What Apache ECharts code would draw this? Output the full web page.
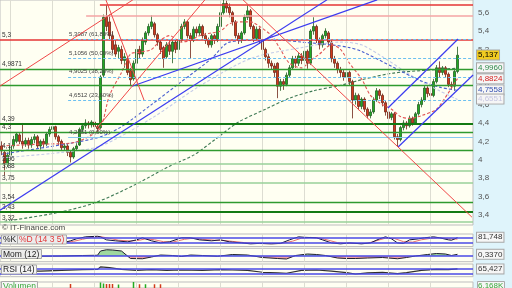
<!DOCTYPE html>
<html><head><meta charset="utf-8">
<script src="https://cdn.jsdelivr.net/npm/echarts@6/dist/echarts.min.js"></script>
<style>html,body{margin:0;padding:0;background:#e2f5fb}#c{width:512px;height:288px}</style>
</head><body><div id="c"></div>
<script>
// candles: [open, close, low, high]
const candles = [
[4.15,4.10,4.05,4.20],[4.08,3.95,3.83,4.10],[3.95,4.05,3.92,4.08],[4.05,4.15,4.02,4.18],[4.15,4.22,4.12,4.26],
[4.20,4.28,4.18,4.30],[4.27,4.20,4.17,4.29],[4.20,4.17,4.12,4.40],[4.17,4.21,4.14,4.24],[4.21,4.16,4.12,4.24],
[4.16,4.22,4.13,4.25],[4.22,4.25,4.18,4.28],[4.25,4.15,4.12,4.27],[4.15,4.20,4.11,4.22],[4.20,4.17,4.13,4.23],
[4.17,4.28,4.15,4.30],[4.28,4.33,4.25,4.36],[4.33,4.36,4.30,4.39],[4.36,4.25,4.22,4.37],[4.25,4.20,4.16,4.27],
[4.20,4.13,4.10,4.22],[4.13,4.15,4.10,4.18],[4.15,4.08,4.04,4.17],[4.08,4.03,3.97,4.10],[4.03,4.12,4.01,4.14],
[4.12,4.15,4.10,4.18],[4.16,4.33,4.15,4.35],[4.33,4.37,4.30,4.40],[4.37,4.40,4.34,4.44],[4.40,4.38,4.34,4.42],
[4.38,4.41,4.35,4.43],[4.41,4.36,4.33,4.42],[4.36,4.34,4.30,4.38],[4.35,4.90,4.33,4.92],[4.92,5.55,4.90,5.58],
[5.55,5.45,5.40,5.68],[5.50,5.35,5.30,5.58],[5.35,5.20,5.16,5.40],[5.25,5.15,5.12,5.30],[5.18,5.22,5.10,5.25],
[5.20,5.08,5.04,5.24],[5.08,5.12,5.00,5.16],[5.10,4.95,4.92,5.12],[4.97,4.87,4.80,5.00],[4.88,5.05,4.86,5.08],
[5.05,5.20,5.02,5.22],[5.20,5.15,5.10,5.24],[5.15,5.30,5.12,5.33],[5.28,5.38,5.25,5.40],[5.38,5.45,5.35,5.48],
[5.45,5.50,5.42,5.57],[5.48,5.36,5.33,5.50],[5.36,5.28,5.24,5.38],[5.28,5.20,5.15,5.30],[5.22,5.10,5.00,5.24],
[5.12,5.25,5.10,5.28],[5.25,5.18,5.14,5.30],[5.18,5.28,5.05,5.30],[5.28,5.20,5.16,5.31],[5.20,5.30,5.18,5.33],
[5.30,5.45,5.28,5.48],[5.45,5.50,5.42,5.53],[5.50,5.35,5.32,5.52],[5.35,5.30,5.10,5.38],[5.30,5.42,5.28,5.45],
[5.42,5.38,5.34,5.45],[5.38,5.45,5.35,5.48],[5.45,5.35,5.32,5.47],[5.35,5.30,5.26,5.38],[5.30,5.25,5.22,5.33],
[5.25,5.35,5.22,5.37],[5.35,5.30,5.26,5.37],[5.30,5.45,5.28,5.48],[5.45,5.60,5.43,5.62],[5.60,5.70,5.58,5.74],
[5.70,5.65,5.60,5.73],[5.66,5.60,5.55,5.70],[5.60,5.50,5.46,5.62],[5.50,5.35,5.32,5.52],[5.35,5.30,5.26,5.38],
[5.30,5.38,5.27,5.40],[5.38,5.55,5.36,5.58],[5.55,5.62,5.52,5.68],[5.62,5.45,5.42,5.64],[5.45,5.32,5.28,5.47],
[5.32,5.42,5.30,5.45],[5.42,5.30,5.26,5.44],[5.30,5.20,5.14,5.32],[5.20,5.12,5.08,5.22],[5.12,5.05,5.00,5.15],
[5.05,5.02,4.98,5.08],[5.02,4.95,4.90,5.05],[5.05,4.80,4.67,5.06],[4.80,4.85,4.75,4.88],[4.85,4.82,4.76,4.88],
[4.82,4.92,4.80,4.95],[4.92,5.00,4.90,5.03],[5.00,5.10,4.98,5.13],[5.10,5.05,5.00,5.13],[5.05,5.13,5.02,5.16],
[5.13,5.08,5.04,5.16],[5.08,5.18,5.05,5.20],[5.18,5.05,4.99,5.20],[5.05,5.40,5.03,5.42],[5.40,5.45,5.36,5.55],
[5.45,5.30,5.27,5.47],[5.30,5.25,5.20,5.33],[5.25,5.35,5.22,5.37],[5.35,5.40,5.32,5.43],[5.38,5.28,5.24,5.40],
[5.28,5.10,5.06,5.30],[5.10,5.05,5.00,5.13],[5.05,4.98,4.94,5.07],[4.98,4.95,4.90,5.01],[4.95,4.90,4.86,4.98],
[4.90,4.95,4.87,4.97],[4.95,4.85,4.81,4.97],[4.85,4.65,4.45,4.87],[4.65,4.70,4.60,4.73],[4.70,4.58,4.54,4.72],
[4.58,4.66,4.55,4.68],[4.66,4.55,4.52,4.68],[4.55,4.48,4.45,4.57],[4.48,4.52,4.45,4.55],[4.52,4.65,4.50,4.68],
[4.65,4.75,4.63,4.78],[4.75,4.70,4.66,4.77],[4.70,4.62,4.58,4.72],[4.62,4.52,4.48,4.64],[4.52,4.45,4.42,4.55],
[4.46,4.50,4.43,4.52],[4.50,4.25,4.22,4.52],[4.25,4.22,4.14,4.28],[4.22,4.35,4.20,4.37],[4.35,4.40,4.32,4.43],
[4.40,4.37,4.33,4.42],[4.37,4.45,4.35,4.48],[4.45,4.40,4.37,4.47],[4.40,4.50,4.38,4.52],[4.50,4.60,4.48,4.63],
[4.60,4.65,4.57,4.68],[4.65,4.78,4.63,4.81],[4.78,4.72,4.68,4.80],[4.72,4.70,4.66,4.75],[4.70,4.85,4.68,4.88],
[4.85,5.00,4.83,5.03],[5.00,4.95,4.90,5.07],[4.95,5.00,4.92,5.02],[5.00,4.93,4.89,5.02],[4.93,4.82,4.79,4.95],
[4.82,4.80,4.76,4.85],[4.80,4.96,4.75,4.98],[4.96,5.137,4.94,5.23]
];
// moving averages as [bar index, price]
const maRed = [[0,4.15],[13,4.17],[23,4.18],[29,4.25],[33,4.35],[36,4.7],[40,4.95],[43,5.15],[46,5.17],[50,5.2],[53,5.3],[56,5.35],[60,5.28],[63,5.3],[66,5.35],[70,5.38],[73,5.4],[76,5.48],[80,5.5],[83,5.5],[86,5.45],[90,5.35],[93,5.2],[96,5.05],[100,5.0],[103,5.08],[106,5.15],[110,5.25],[113,5.2],[116,5.05],[120,4.88],[123,4.7],[126,4.62],[130,4.55],[133,4.47],[136,4.45],[140,4.48],[145,4.55],[148,4.68],[150,4.78],[152,4.8824]];
const maBlue = [[0,4.06],[23,4.18],[33,4.25],[40,4.36],[50,4.6],[60,4.85],[70,5.1],[76,5.28],[86,5.3],[93,5.3],[100,5.28],[110,5.25],[116,5.22],[120,5.18],[131,5.0],[139,4.87],[146,4.79],[152,4.7558]];
const maLight = [[0,4.02],[20,4.08],[33,4.15],[50,4.45],[66,4.8],[83,5.1],[100,5.22],[113,5.28],[120,5.25],[127,5.12],[135,4.95],[140,4.85],[146,4.75],[152,4.6551]];
const maGreen = [[1,3.33],[18,3.42],[31,3.53],[44,3.72],[56,3.93],[64,4.05],[72,4.24],[79,4.41],[88,4.55],[96,4.67],[104,4.75],[113,4.81],[120,4.87],[130,4.94],[140,4.97],[152,4.996]];
// horizontal support / resistance levels
const hLevels = [5.31, 4.9871, 4.81, 4.39, 4.3, 4.1, 3.96, 3.88, 3.75, 3.54, 3.43, 3.32];
const hLabels = ['5,3','4,9871','','4,39','4,3','4,1','3,96','3,88','3,75','3,54','3,43','3,32'];
const topRed = {value:5.69, from:32.8};
const topPink = {value:5.565, from:28.2};
// fibonacci retracement
const fibStart = 22.2;
const fibValues = [5.3087, 5.1056, 4.9025, 4.6512];
const fibLabels = ['5,3087 (61,80%)','5,1056 (50,00%)','4,9025 (38,20%)','4,6512 (23,60%)'];
const fibBase = 4.2451, fibBaseLabel = '4,2451 (0,00%)';
// trend lines: [[x0,p0],[x1,p1]]
const blueLines = [[[-0.5,3.45],[108.5,5.74]],[[43.5,4.80],[125.2,5.74]],[[128.8,4.563],[152.2,5.314]],[[132.2,4.139],[157.2,4.922]]];
const redLines = [[[-0.5,4.802],[43.8,5.74]],[[31.8,4.345],[67.8,5.74]],[[34.8,5.74],[47.5,4.65]],[[80.5,5.74],[156.8,3.376]]];
// right value boxes
const lastValues = [5.137, 4.996, 4.8824, 4.7558, 4.6551];
const lastLabels = ['5,137','4,9960','4,8824','4,7558','4,6551'];
const priceTicks = [3.4,3.6,3.8,4,4.2,4.4,4.6,4.8,5,5.2,5.4,5.6];
const gridX = [2.8,16.8,30.8,44.8,58.8,72.8,86.8,100.8,114.8,128.8,142.8];
// indicators
const stochK = [[20,19],[23,44],[25,65],[28,86],[32,92],[33,86],[35,54],[38,44],[42,33],[45,54],[47,76],[50,44],[53,22],[56,33],[60,76],[63,76],[66,54],[70,44],[73,54],[76,33],[80,22],[83,12],[86,17],[90,12],[93,17],[96,54],[99,86],[101,81],[105,76],[107,54],[110,22],[113,12],[116,22],[120,12],[123,22],[126,65],[128,86],[130,65],[132,22],[134,17],[136,54],[139,65],[141,76],[144,86],[146,76],[149,54],[150,50],[152,78]];
const stochD = [[20,25],[24,38],[27,60],[30,80],[33,88],[36,70],[39,50],[43,42],[46,50],[48,65],[51,55],[54,35],[57,30],[61,60],[64,72],[67,60],[71,50],[74,48],[77,38],[81,25],[85,16],[89,14],[93,15],[97,40],[100,72],[103,80],[106,74],[109,50],[112,25],[115,17],[119,16],[122,18],[125,45],[128,72],[131,68],[134,35],[137,30],[140,55],[143,70],[146,78],[149,65],[152,62]];
const stochLevels = [20, 80];
const mom = [[0,0],[7,0.05],[13,-0.05],[20,0],[27,0.1],[32,0.15],[33,1.0],[35,1.25],[37,1.2],[40,1.0],[42,0],[43,-0.5],[47,-0.55],[50,-0.2],[53,0.2],[57,0.1],[60,-0.1],[63,0.2],[67,0.1],[72,-0.05],[77,0.3],[82,0.2],[87,-0.3],[92,-0.5],[95,-0.6],[98,0.1],[102,0.4],[105,0.3],[108,0.1],[112,-0.4],[115,-0.5],[118,-0.5],[122,-0.4],[127,-0.3],[132,-0.55],[135,-0.3],[138,0],[142,0.3],[145,0.5],[148,0.4],[150,0.1],[152,0.337]];
const rsi = [[0,48],[7,52],[13,50],[20,55],[27,60],[32,62],[33,80],[36,75],[40,62],[45,55],[50,60],[55,55],[60,58],[67,55],[73,60],[77,58],[82,55],[87,42],[92,38],[95,35],[100,55],[105,58],[110,50],[115,40],[118,30],[122,38],[127,42],[132,32],[135,40],[140,55],[145,62],[149,60],[152,65.4]];
const rsiLevels = [30, 70];
const volume = [[23,8],[33,11],[34,9],[35,8],[36,8],[37,8],[39,7],[44,12],[46,7.5],[48,7.5],[51,7.5],[53,7.5]];
const subLabels = ['81,748','0,3370','65,427'];
const subValues = [81.748, 0.337, 65.427];

const FF = 'Liberation Sans';
const XMIN = -0.5, XMAX = 157.17;
const fmt = v => String(Math.round(v*10)/10).replace('.', ',');
const styleKinds = ['red','mid','mid','dark','mid','mid','light','light','light','mid','dark','light'];
const styleMap = {red:{color:'#e53535',width:1.5}, mid:{color:'#2f9a2f',width:1.3}, dark:{color:'#137a13',width:2}, light:{color:'#98d098',width:1.6}};
const HIDDEN = {width:0, color:'rgba(0,0,0,0)'};

function vgrid(){ return {silent:true, symbol:'none', animation:false, label:{show:false}, lineStyle:{color:'#ddddd2', width:1, type:'solid'}, data: gridX.map(v=>({xAxis:v}))}; }
function hostSeries(gi){ return {type:'line', xAxisIndex:gi, yAxisIndex:gi, data:[], silent:true, markLine: vgrid(), z:1}; }
function boxLabel(txt, color, bg){ return {show:true, position:'end', distance:4, formatter:txt, color:color, opacity:1, fontSize:8, fontFamily:FF, backgroundColor:bg||'#f6f6f6', borderColor:'#a8a8a8', borderWidth:1, padding:[1,1,0,1]}; }

const grids = [
  {left:0, top:0, width:473, height:225},
  {left:0, top:234, width:473, height:12.5},
  {left:0, top:248.3, width:473, height:13.4},
  {left:0, top:264, width:473, height:12.7},
  {left:0, top:282, width:473, height:12}
].map(g=>Object.assign(g,{show:true, backgroundColor:'#fffff2', borderColor:'#bdbdbd', borderWidth:1}));

const xAxes = grids.map((g,i)=>({gridIndex:i, type:'value', min:XMIN, max:XMAX, show:false}));
const yAxes = [
  {gridIndex:0, type:'value', position:'right', min:3.29, max:5.738, splitLine:{show:false}, axisLine:{show:false}, axisTick:{show:false},
   axisLabel:{customValues:priceTicks, formatter:fmt, fontSize:8, color:'#555', margin:5, fontFamily:FF}},
  {gridIndex:1, type:'value', min:-16, max:116, show:false},
  {gridIndex:2, type:'value', min:-1.14, max:1.54, show:false},
  {gridIndex:3, type:'value', min:11, max:100, show:false},
  {gridIndex:4, type:'value', min:0, max:12, show:false}
];

const series = [];
for (let i=0;i<5;i++) series.push(hostSeries(i));
// horizontal levels
series.push({type:'line', xAxisIndex:0, yAxisIndex:0, data:[], z:2, silent:true, markLine:{silent:true, symbol:'none', animation:false,
  data: hLevels.map((v,i)=>({yAxis:v, lineStyle:Object.assign({type:'solid'}, styleMap[styleKinds[i]]),
    label:{show:hLabels[i]!=='', formatter:hLabels[i], position:'insideStartTop', distance:[2,1], fontSize:6.5, color:'#333', fontFamily:FF}}))
  .concat([
    [{coord:[topRed.from, topRed.value], lineStyle:{color:'#e53535', width:1.5, type:'solid'}, label:{show:false}}, {coord:[XMAX, topRed.value]}],
    [{coord:[topPink.from, topPink.value], lineStyle:{color:'#f5a5a5', width:1.5, type:'solid'}, label:{show:false}}, {coord:[XMAX, topPink.value]}],
    [{coord:[fibStart, fibBase], lineStyle:{color:'#86c8f0', width:1.2, type:'solid'}, label:{show:true, formatter:fibBaseLabel, position:'insideStartTop', distance:[1,2], fontSize:6, color:'#444', fontFamily:FF}}, {coord:[XMAX, fibBase]}]
  ]).concat(fibValues.map((v,i)=>[
    {coord:[fibStart, v], lineStyle:{color:'#6cc0f0', width:1, type:[3,2]}, label:{show:true, formatter:fibLabels[i], position:'insideStartTop', distance:[1,2], fontSize:6, color:'#444', fontFamily:FF}},
    {coord:[XMAX, v]}]))
}});
// candles
series.push({type:'candlestick', xAxisIndex:0, yAxisIndex:0, z:3, barWidth:2,
  data: candles.map((c,i)=>[i, c[0], c[1], c[2], c[3]]), encode:{x:0, y:[1,2,3,4]},
  itemStyle:{color:'#22aa22', color0:'#d23a1c', borderColor:'#235e23', borderColor0:'#6e2616', borderWidth:0.8}});
// moving averages
[[maLight,'#c4cbe8'],[maGreen,'#3f7a55'],[maBlue,'#4a60d0'],[maRed,'#e25555']].forEach(([d,c])=>{
  series.push({type:'line', xAxisIndex:0, yAxisIndex:0, z:4, data:d, symbol:'none', smooth:0.3, silent:true,
    lineStyle:{color:c, width:1.1, type:[3,2]}});
});
// trend lines
blueLines.forEach(d=>series.push({type:'line', xAxisIndex:0, yAxisIndex:0, z:5, data:d, symbol:'none', silent:true, lineStyle:{color:'#3c3cf0', width:1.2}}));
redLines.forEach(d=>series.push({type:'line', xAxisIndex:0, yAxisIndex:0, z:5, data:d, symbol:'none', silent:true, lineStyle:{color:'#f04848', width:1}}));
// right value boxes
const boxColors = [['#000','#f2cc20'],['#2f8a4a'],['#d42020'],['#3450b0'],['#c4c4e0']];
series.push({type:'line', xAxisIndex:0, yAxisIndex:0, data:[], z:6, markLine:{silent:true, symbol:'none', animation:false,
  data: lastValues.map((v,i)=>({yAxis:v, lineStyle:HIDDEN, label:boxLabel(lastLabels[i], boxColors[i][0], boxColors[i][1])}))}});
// stochastic
series.push({type:'line', xAxisIndex:1, yAxisIndex:1, data:[], z:2, markLine:{silent:true, symbol:'none', animation:false,
  data: stochLevels.map(v=>({yAxis:v, lineStyle:{color:'#4a4ae6', width:1.5, type:'solid'}, label:{show:false}}))
   .concat([{yAxis:subValues[0], lineStyle:HIDDEN, label:boxLabel(subLabels[0],'#333')}])}});
series.push({type:'line', xAxisIndex:1, yAxisIndex:1, data:stochD, symbol:'none', z:3, lineStyle:{color:'#e87070', width:1}});
series.push({type:'line', xAxisIndex:1, yAxisIndex:1, data:stochK, symbol:'none', z:4, lineStyle:{color:'#141440', width:1}});
// momentum: positive and negative parts filled to zero
series.push({type:'line', xAxisIndex:2, yAxisIndex:2, data:mom.map(d=>[d[0], Math.max(d[1],0)]), symbol:'none', z:2, lineStyle:{width:0}, areaStyle:{color:'#9ed89e', opacity:1}});
series.push({type:'line', xAxisIndex:2, yAxisIndex:2, data:mom.map(d=>[d[0], Math.min(d[1],0)]), symbol:'none', z:2, lineStyle:{width:0}, areaStyle:{color:'#f2a0a0', opacity:1}});
series.push({type:'line', xAxisIndex:2, yAxisIndex:2, data:[], z:3, markLine:{silent:true, symbol:'none', animation:false,
  data:[{yAxis:0, lineStyle:{color:'#4a4ae6', width:1.5, type:'solid'}, label:{show:false}},
        {yAxis:subValues[1], lineStyle:HIDDEN, label:boxLabel(subLabels[1],'#333')}]}});
series.push({type:'line', xAxisIndex:2, yAxisIndex:2, data:mom, symbol:'none', z:4, lineStyle:{color:'#202030', width:1}});
// RSI
series.push({type:'line', xAxisIndex:3, yAxisIndex:3, data:[], z:2, markLine:{silent:true, symbol:'none', animation:false,
  data: rsiLevels.map(v=>({yAxis:v, lineStyle:{color:'#4a4ae6', width:1.5, type:'solid'}, label:{show:false}}))
   .concat([{yAxis:subValues[2], lineStyle:HIDDEN, label:boxLabel(subLabels[2],'#333')}])}});
series.push({type:'line', xAxisIndex:3, yAxisIndex:3, data:rsi, symbol:'none', z:3, lineStyle:{color:'#303030', width:1.2}});
// volume
series.push({type:'bar', xAxisIndex:4, yAxisIndex:4, data:volume, barWidth:1.5, z:3,
  itemStyle:{color:p=>{const c=candles[p.data[0]]; return c[1]>=c[0]?'#22aa22':'#d23a1c';}}});

const tStyle = (c)=>({fontSize:8.5, color:c, fontWeight:'normal', fontFamily:FF});
const titles = [
  {text:'© IT-Finance.com', left:2, top:224, padding:0, textStyle:{fontSize:8, color:'#444', fontWeight:'normal', fontFamily:FF}},
  {text:'%K', left:1, top:234.5, padding:[1,2,0,2], backgroundColor:'#ececec', borderColor:'#aaa', borderWidth:1, textStyle:tStyle('#222')},
  {text:'%D (14 3 5)', left:17, top:234.5, padding:[1,2,0,2], backgroundColor:'#ececec', borderColor:'#aaa', borderWidth:1, textStyle:tStyle('#e03838')},
  {text:'Mom (12)', left:1, top:249, padding:[1,2,0,2], backgroundColor:'#ececec', borderColor:'#aaa', borderWidth:1, textStyle:tStyle('#222')},
  {text:'RSI (14)', left:1, top:264.5, padding:[1,2,0,2], backgroundColor:'#f6f6f6', borderColor:'#aaa', borderWidth:1, textStyle:tStyle('#222')},
  {text:'Volumen', left:1, top:281, padding:[1,2,0,2], backgroundColor:'#f6f6f6', borderColor:'#aaa', borderWidth:1, textStyle:tStyle('#3aa63a')},
  {text:'6.168K', left:477, top:281, padding:[1,1,0,1], backgroundColor:'#f6f6f6', borderColor:'#aaa', borderWidth:1, textStyle:{fontSize:8, color:'#3aa63a', fontWeight:'normal', fontFamily:FF}}
];

const chart = echarts.init(document.getElementById('c'), null, {renderer:'canvas'});
chart.setOption({
  animation:false,
  backgroundColor:'#dff4fb',
  graphic:[{type:'rect', z:-100, left:0, top:0, shape:{width:473, height:288}, style:{fill:'#fffff2'}}],
  title: titles,
  grid: grids, xAxis: xAxes, yAxis: yAxes,
  series: series
});
</script></body></html>
